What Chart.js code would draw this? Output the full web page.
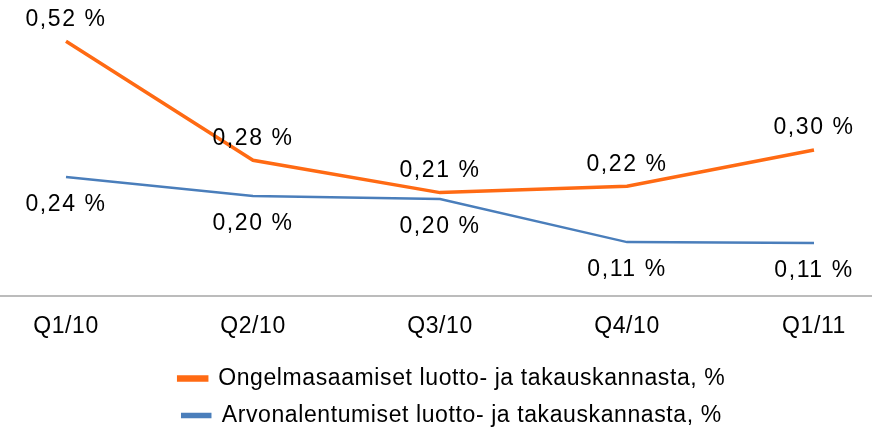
<!DOCTYPE html>
<html>
<head>
<meta charset="utf-8">
<script src="https://cdn.jsdelivr.net/npm/chart.js@4"></script>
<style>
  html, body { margin: 0; background: #fff; overflow: hidden; }
  #wrap { width: 872px; height: 427px; overflow: hidden; }
</style>
</head>
<body>
<div id="wrap"><canvas id="lineChart" width="872" height="437"></canvas></div>
<script>
const quarters = ['Q1/10', 'Q2/10', 'Q3/10', 'Q4/10', 'Q1/11'];
const ongelmasaamiset = [0.52, 0.277, 0.211, 0.224, 0.298];
const arvonalentumiset = [0.243, 0.204, 0.198, 0.110, 0.108];

const FONT = { family: '"Liberation Sans", Arial, sans-serif', size: 23 };

function fmt(v) {
    return v.toFixed(2).replace('.', ',') + ' %';
}

// the image text is a bit wide, so add some letter spacing
const spacing = {
    id: 'spacing',
    beforeUpdate(chart) { chart.ctx.letterSpacing = '0.6px'; },
    beforeDraw(chart) { chart.ctx.letterSpacing = '0.6px'; }
};

// legend sits a little right of centre in the original
const legendShift = {
    id: 'legendShift',
    afterLayout(chart) {
        chart.legend.left += 12;
        chart.legend.right += 12;
    }
};

// horizontal axis line over the whole width
const axisLine = {
    id: 'axisLine',
    beforeDatasetsDraw(chart) {
        const ctx = chart.ctx;
        const y = chart.scales.y.getPixelForValue(0);
        ctx.save();
        ctx.strokeStyle = '#A6A6A6';
        ctx.lineWidth = 1.5;
        ctx.beginPath();
        ctx.moveTo(0, y);
        ctx.lineTo(chart.width, y);
        ctx.stroke();
        ctx.restore();
    }
};

// value labels, orange above, blue below
const valueLabels = {
    id: 'valueLabels',
    afterDatasetsDraw(chart) {
        const ctx = chart.ctx;
        ctx.save();
        ctx.letterSpacing = '1.6px';
        ctx.font = FONT.size + 'px ' + FONT.family;
        ctx.fillStyle = '#000';
        ctx.textAlign = 'center';
        ctx.textBaseline = 'middle';
        chart.data.datasets.forEach((ds, i) => {
            const meta = chart.getDatasetMeta(i);
            meta.data.forEach((pt, j) => {
                ctx.fillText(fmt(ds.data[j]), pt.x, pt.y + ds.labelOffset);
            });
        });
        ctx.restore();
    }
};

const ctx = document.getElementById('lineChart').getContext('2d');
const lineChart = new Chart(ctx, {
    type: 'line',
    data: {
        labels: quarters,
        datasets: [{
            label: 'Ongelmasaamiset luotto- ja takauskannasta, %',
            data: ongelmasaamiset,
            borderColor: '#FF6A13',
            backgroundColor: '#FF6A13',
            borderWidth: 3.5,
            pointRadius: 0,
            labelOffset: -22,
        }, {
            label: 'Arvonalentumiset luotto- ja takauskannasta, %',
            data: arvonalentumiset,
            borderColor: '#4A7EBB',
            backgroundColor: '#4A7EBB',
            borderWidth: 2.5,
            pointRadius: 0,
            labelOffset: 28,
        }],
    },
    options: {
        responsive: false,
        animation: false,
        layout: { padding: { left: 66, right: 58, top: 2, bottom: 0 } },
        scales: {
            x: {
                offset: false,
                grid: { display: false, drawTicks: false },
                border: { display: false },
                ticks: { color: '#000', font: FONT, padding: 17 },
                afterFit(scale) { scale.height = 57; },
            },
            y: {
                display: false,
                min: 0,
                max: 0.6,
            },
        },
        plugins: {
            legend: {
                position: 'bottom',
                labels: {
                    color: '#000',
                    font: FONT,
                    boxWidth: 28,
                    boxHeight: 3,
                    padding: 14,
                },
            },
            tooltip: { enabled: false },
        },
    },
    plugins: [spacing, legendShift, axisLine, valueLabels],
});
</script>
</body>
</html>
